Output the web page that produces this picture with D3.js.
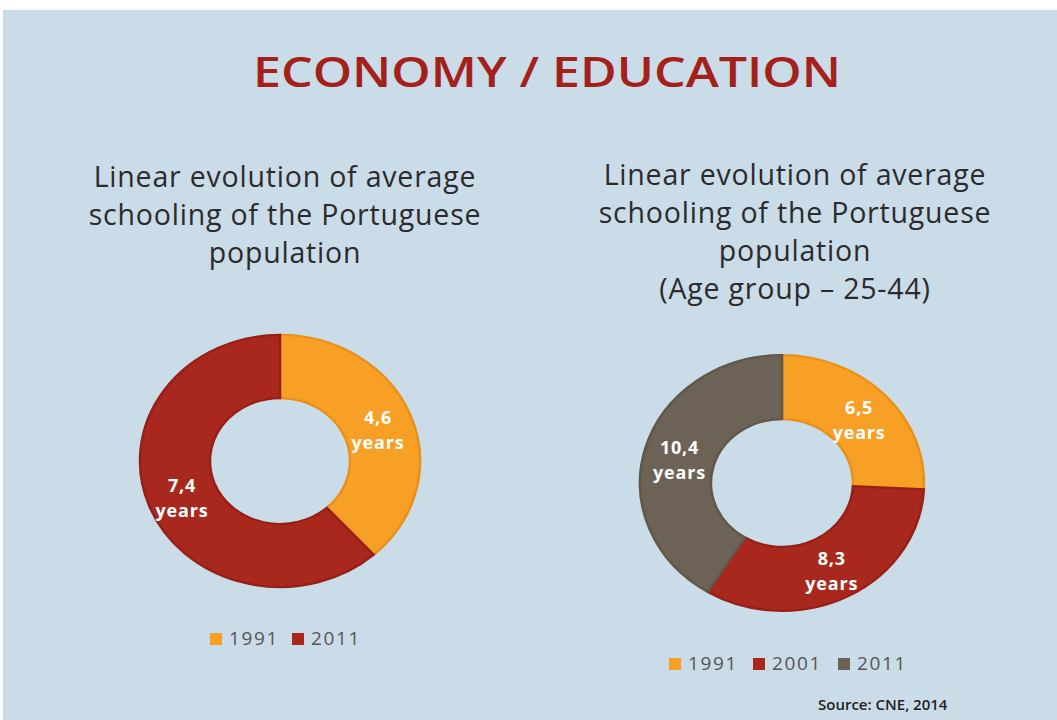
<!DOCTYPE html>
<html>
<head>
<meta charset="utf-8">
<script src="https://cdn.jsdelivr.net/npm/d3@7"></script>
<style>
  html, body { margin: 0; padding: 0; background: #ffffff; }
  svg { display: block; }
</style>
</head>
<body>
<svg id="chart" width="1057" height="720"></svg>
<script>
// Average years of schooling, whole population
const yearsAll = ["1991", "2011"];
const valuesAll = [4.6, 7.4];
const colorsAll = ["#F8A026", "#A8281E"];
const strokesAll = ["#E8911A", "#981F17"];

// Average years of schooling, age group 25-44
const yearsAge = ["1991", "2001", "2011"];
const valuesAge = [6.5, 8.3, 10.4];
const colorsAge = ["#F8A026", "#A8281E", "#6C6356"];
const strokesAge = ["#E8911A", "#981F17", "#605749"];

const titleLeft = ["Linear evolution of average", "schooling of the Portuguese", "population"];
const titleRight = ["Linear evolution of average", "schooling of the Portuguese", "population", "(Age group \u2013 25-44)"];

const svg = d3.select("#chart");
const font = "'Open Sans', 'Liberation Sans', sans-serif";

svg.append("rect")
  .attr("x", 3).attr("y", 10)
  .attr("width", 1054).attr("height", 710)
  .attr("fill", "#CADCE8");

svg.append("text")
  .attr("x", 547).attr("y", 87)
  .attr("text-anchor", "middle")
  .attr("font-family", font)
  .attr("font-size", 42)
  .attr("font-weight", 600)
  .attr("fill", "#A3211A")
  .attr("textLength", 588)
  .attr("lengthAdjust", "spacingAndGlyphs")
  .text("ECONOMY / EDUCATION");

function subtitle(lines, cx, y0) {
  svg.append("g").selectAll("text")
    .data(lines).join("text")
    .attr("x", cx)
    .attr("y", (d, i) => y0 + i * 38)
    .attr("text-anchor", "middle")
    .attr("font-family", font)
    .attr("font-size", 28.5)
    .attr("letter-spacing", 0.8)
    .attr("fill", "#2b2b2b")
    .text(d => d);
}
subtitle(titleLeft, 285, 187);
subtitle(titleRight, 795, 185);

const sy = 0.9;

function donut(labels, values, fills, strokes, cx, cy, rOuter, rInner) {
  const data = labels.map((k, i) => ({ key: k, value: values[i], fill: fills[i], stroke: strokes[i] }));
  const pie = d3.pie().sort(null).value(d => d.value);
  const arc = d3.arc().innerRadius(rInner).outerRadius(rOuter);
  const arcs = pie(data);

  const g = svg.append("g")
    .attr("transform", `translate(${cx},${cy}) scale(1,${sy})`);
  g.selectAll("path")
    .data(arcs).join("path")
    .attr("d", arc)
    .attr("fill", d => d.data.fill)
    .attr("stroke", d => d.data.stroke)
    .attr("stroke-width", 2.5);

  const lg = svg.append("g").attr("transform", `translate(${cx},${cy})`);
  arcs.forEach(a => {
    const [x, y] = arc.centroid(a);
    const t = lg.append("text")
      .attr("text-anchor", "middle")
      .attr("font-family", font)
      .attr("font-size", 18)
      .attr("font-weight", 700)
      .attr("letter-spacing", 0.8)
      .attr("fill", "#ffffff");
    t.append("tspan").attr("x", x).attr("y", y * sy - 3)
      .text(String(a.data.value).replace(".", ","));
    t.append("tspan").attr("x", x).attr("y", y * sy + 22).text("years");
  });
}

donut(yearsAll, valuesAll, colorsAll, strokesAll, 280, 461, 140, 70);
donut(yearsAge, valuesAge, colorsAge, strokesAge, 782, 483, 142, 71);

function legend(labels, fills, xs, y) {
  const g = svg.append("g");
  labels.forEach((k, i) => {
    g.append("rect")
      .attr("x", xs[i]).attr("y", y - 12)
      .attr("width", 12).attr("height", 12)
      .attr("fill", fills[i]);
    g.append("text")
      .attr("x", xs[i] + 19).attr("y", y)
      .attr("font-family", font)
      .attr("font-size", 19)
      .attr("letter-spacing", 1.6)
      .attr("fill", "#555555")
      .text(k);
  });
}
legend(yearsAll, colorsAll, [210, 292], 645);
legend(yearsAge, colorsAge, [669, 753, 838], 670);

svg.append("text")
  .attr("x", 818).attr("y", 710)
  .attr("font-family", font)
  .attr("font-size", 15)
  .attr("font-weight", 600)
  .attr("fill", "#222")
  .text("Source: CNE, 2014");
</script>
</body>
</html>
